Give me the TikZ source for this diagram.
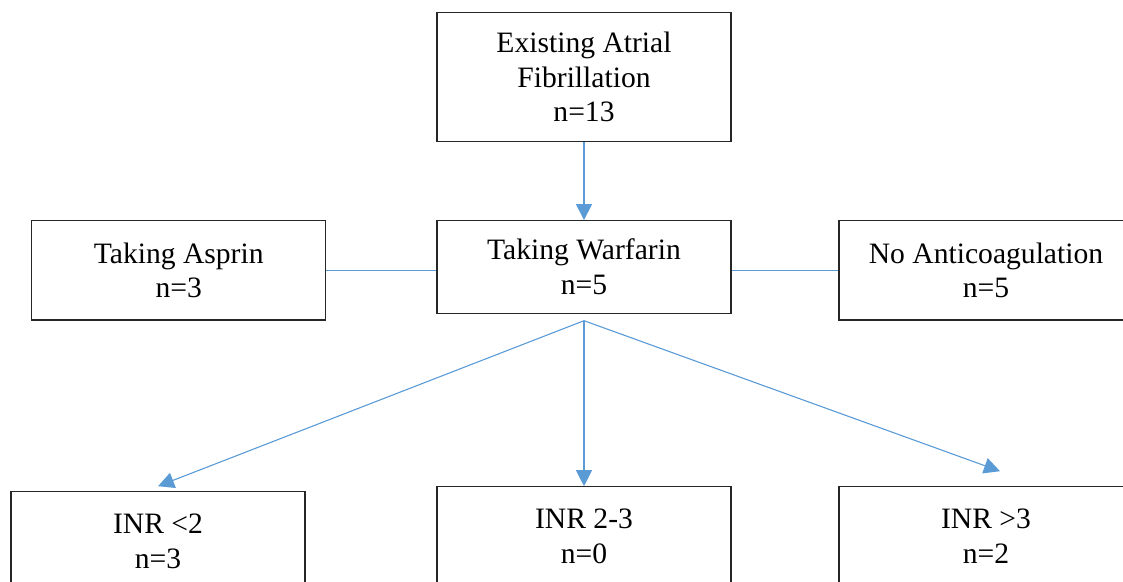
\documentclass[tikz,border=0pt]{standalone}
\usepackage{fontspec}
\setmainfont{Liberation Serif}
\usetikzlibrary{positioning, calc, arrows.meta}
\definecolor{xblue}{HTML}{5B9BD5}

\begin{document}
\begin{tikzpicture}[x=0.5pt, y=-0.5pt,
		every node/.style={font=\fontsize{14.8}{17.3}\selectfont},
		box/.style={draw=black!85, line width=0.6pt, align=center, minimum width=147pt, inner sep=0pt},
		link/.style={xblue, line width=0.55pt},
		arrow/.style={link, -{Triangle[length=8pt, width=8pt]}},
	]
		\clip (0,0) rectangle (1123,582);
		% top
		\node[box, minimum height=64.5pt] at (584,77.2) (af) {Existing Atrial\\Fibrillation\\n=13};
		% middle row
		\node[box, minimum height=49.6pt] at (178.7,270.4) (asp) {Taking Asprin\\n=3};
		\node[box, minimum height=46.3pt] at (584,267) (warf) {Taking Warfarin\\n=5};
		\node[box, minimum height=49.6pt] at (986,270.4) (noac) {No Anticoagulation\\n=5};
		% bottom row
		\node[box, minimum height=49.6pt] at (158,541.4) (inrlo) {INR <2\\n=3};
		\node[box, minimum height=49.6pt] at (584,536.4) (inrmid) {INR 2-3\\n=0};
		\node[box, minimum height=49.6pt] at (986,536.4) (inrhi) {INR >3\\n=2};
		\coordinate (split) at (584,320.7);
		\draw[arrow] (af) -- (warf);
		\draw[link] (asp.east) -- (asp.east -| warf.west);
		\draw[link] (noac.west -| warf.east) -- (noac.west);
		\draw[arrow] (split) -- ([yshift=2.5pt]inrlo.north);
		\draw[arrow] (split) -- (inrmid.north);
		\draw[arrow] (split) -- ([shift={(14,-15)}]inrhi.north);
	\end{tikzpicture}
\end{document}
